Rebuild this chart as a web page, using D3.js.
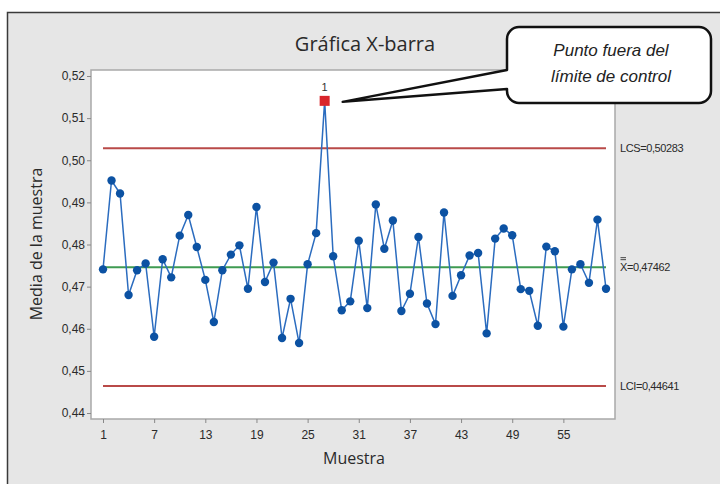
<!DOCTYPE html>
<html>
<head>
<meta charset="utf-8">
<script src="https://cdn.jsdelivr.net/npm/d3@7"></script>
<style>
  body { margin: 0; background: #fff; }
  svg { display: block; }
</style>
</head>
<body>
<script>
// sample means
var muestras = d3.range(1, 61);
var medias = [
    0.4741, 0.4952, 0.4921, 0.4680, 0.4739, 0.4755, 0.4581, 0.4765, 0.4722, 0.4821,
    0.4870, 0.4794, 0.4716, 0.4616, 0.4739, 0.4776, 0.4798, 0.4695, 0.4889, 0.4711,
    0.4757, 0.4578, 0.4671, 0.4566, 0.4753, 0.4827, 0.5141, 0.4772, 0.4644, 0.4665,
    0.4809, 0.4649, 0.4895, 0.4790, 0.4857, 0.4642, 0.4683, 0.4818, 0.4660, 0.4611,
    0.4876, 0.4678, 0.4727, 0.4774, 0.4780, 0.4589, 0.4814, 0.4838, 0.4822, 0.4694,
    0.4690, 0.4607, 0.4795, 0.4784, 0.4605, 0.4741, 0.4753, 0.4709, 0.4859, 0.4695
];
var xTicks = [1, 7, 13, 19, 25, 31, 37, 43, 49, 55];
var yTicks = [0.44, 0.45, 0.46, 0.47, 0.48, 0.49, 0.50, 0.51, 0.52];
var LCS = 0.50283, media = 0.47462, LCI = 0.44641;
var fuera = [27];   // sample flagged with test 1

var w = 720, h = 484;
var narrow = "'Liberation Sans Narrow', 'Arial Narrow', sans-serif";

var puntos = muestras.map(function (m, i) {
    return { m: m, v: medias[i], fuera: fuera.indexOf(m) >= 0 };
});

var svg = d3.select("body").append("svg")
    .attr("width", w)
    .attr("height", h);

// outer gray panel
svg.append("rect")
    .attr("x", 7.5).attr("y", 12.5)
    .attr("width", w).attr("height", h)
    .attr("fill", "#e6e6e6")
    .attr("stroke", "#3a3a3a")
    .attr("stroke-width", 1.5);

var xScale = d3.scaleLinear().domain([1, 60]).range([103, 606]);
var yScale = d3.scaleLinear().domain([0.44, 0.52]).range([413, 76]);

// plot frame
svg.append("rect")
    .attr("x", 91).attr("y", 70)
    .attr("width", 524).attr("height", 349)
    .attr("fill", "#fff")
    .attr("stroke", "#a9a9a9")
    .attr("stroke-width", 1.5);

var yAxis = d3.axisLeft(yScale)
    .tickValues(yTicks)
    .tickSize(4)
    .tickFormat(function (d) { return d3.format(".2f")(d).replace(".", ","); });

var xAxis = d3.axisBottom(xScale)
    .tickValues(xTicks)
    .tickSize(4);

var gy = svg.append("g")
    .attr("transform", "translate(91,0)")
    .call(yAxis);
gy.select(".domain").remove();
gy.selectAll("line").attr("stroke", "#888");
gy.selectAll("text")
    .attr("font-family", narrow)
    .attr("font-size", 12)
    .attr("fill", "#2a2a2a")
    .attr("x", -6);

var gx = svg.append("g")
    .attr("transform", "translate(0,419)")
    .call(xAxis);
gx.select(".domain").remove();
gx.selectAll("line").attr("stroke", "#888");
gx.selectAll("text")
    .attr("font-family", narrow)
    .attr("font-size", 12)
    .attr("fill", "#2a2a2a")
    .attr("dy", "1.1em");

// control limits
function hline(v, color) {
    svg.append("line")
        .attr("x1", 103).attr("x2", 606)
        .attr("y1", yScale(v)).attr("y2", yScale(v))
        .attr("stroke", color)
        .attr("stroke-width", 2);
}
hline(LCS, "#b94a48");
hline(LCI, "#b94a48");
hline(media, "#3f9b52");

// series line
svg.append("path")
    .datum(puntos)
    .attr("fill", "none")
    .attr("stroke", "#2b6cbf")
    .attr("stroke-width", 1.5)
    .attr("d", d3.line()
        .x(function (d) { return xScale(d.m); })
        .y(function (d) { return yScale(d.v); }));

// points
svg.selectAll("circle.pt")
    .data(puntos.filter(function (d) { return !d.fuera; }))
    .enter()
    .append("circle")
    .attr("class", "pt")
    .attr("cx", function (d) { return xScale(d.m); })
    .attr("cy", function (d) { return yScale(d.v); })
    .attr("r", 4.2)
    .attr("fill", "#0c52a3");

var rojos = puntos.filter(function (d) { return d.fuera; });
svg.selectAll("rect.fuera")
    .data(rojos)
    .enter()
    .append("rect")
    .attr("class", "fuera")
    .attr("x", function (d) { return xScale(d.m) - 5; })
    .attr("y", function (d) { return yScale(d.v) - 5; })
    .attr("width", 10).attr("height", 10)
    .attr("fill", "#d9252b");
svg.selectAll("text.fuera")
    .data(rojos)
    .enter()
    .append("text")
    .attr("class", "fuera")
    .attr("x", function (d) { return xScale(d.m); })
    .attr("y", function (d) { return yScale(d.v) - 10; })
    .attr("text-anchor", "middle")
    .attr("font-family", narrow)
    .attr("font-size", 11)
    .attr("fill", "#333")
    .text("1");

// right-hand labels
function rlabel(v, txt) {
    svg.append("text")
        .attr("x", 620).attr("y", yScale(v) + 4)
        .attr("font-family", narrow)
        .attr("font-size", 11)
        .attr("letter-spacing", -0.4)
        .attr("fill", "#2a2a2a")
        .text(txt);
}
rlabel(LCS, "LCS=0,50283");
rlabel(media, "X=0,47462");
rlabel(LCI, "LCI=0,44641");
// double bar over the X
[-9.5, -7.5].forEach(function (dy) {
    svg.append("line")
        .attr("x1", 620.5).attr("x2", 626)
        .attr("y1", yScale(media) + dy).attr("y2", yScale(media) + dy)
        .attr("stroke", "#333")
        .attr("stroke-width", 0.9);
});

// titles
svg.append("text")
    .attr("x", 365).attr("y", 51)
    .attr("text-anchor", "middle")
    .attr("font-family", "'Open Sans', sans-serif")
    .attr("font-size", 20)
    .attr("fill", "#2a2a2a")
    .text("Gráfica X-barra");

svg.append("text")
    .attr("x", 354).attr("y", 464)
    .attr("text-anchor", "middle")
    .attr("font-family", "'Open Sans', sans-serif")
    .attr("font-size", 16)
    .attr("fill", "#2a2a2a")
    .text("Muestra");

svg.append("text")
    .attr("transform", "translate(42,244) rotate(-90)")
    .attr("text-anchor", "middle")
    .attr("font-family", "'Open Sans', sans-serif")
    .attr("font-size", 16)
    .attr("fill", "#2a2a2a")
    .text("Media de la muestra");

// callout
var bx = 507, by = 27, bw = 204, bh = 76, r = 12;
var tipX = xScale(27) + 18, tipY = yScale(medias[26]) + 1;
var callout = d3.path();
callout.moveTo(bx + r, by);
callout.lineTo(bx + bw - r, by);
callout.arcTo(bx + bw, by, bx + bw, by + r, r);
callout.lineTo(bx + bw, by + bh - r);
callout.arcTo(bx + bw, by + bh, bx + bw - r, by + bh, r);
callout.lineTo(bx + r, by + bh);
callout.arcTo(bx, by + bh, bx, by + bh - r, r);
callout.lineTo(bx, by + 62);
callout.lineTo(tipX, tipY);
callout.lineTo(bx, by + 43);
callout.lineTo(bx, by + r);
callout.arcTo(bx, by, bx + r, by, r);
callout.closePath();

svg.append("path")
    .attr("d", callout.toString())
    .attr("fill", "#fff")
    .attr("stroke", "#111")
    .attr("stroke-width", 2.5)
    .attr("stroke-linejoin", "round");

svg.append("text")
    .attr("x", bx + bw / 2 + 2).attr("y", by + 29)
    .attr("text-anchor", "middle")
    .attr("font-family", "'Liberation Sans', Arial, sans-serif")
    .attr("font-style", "italic")
    .attr("font-size", 17)
    .attr("fill", "#222")
    .text("Punto fuera del");
svg.append("text")
    .attr("x", bx + bw / 2 + 2).attr("y", by + 55)
    .attr("text-anchor", "middle")
    .attr("font-family", "'Liberation Sans', Arial, sans-serif")
    .attr("font-style", "italic")
    .attr("font-size", 17)
    .attr("fill", "#222")
    .text("límite de control");
</script>
</body>
</html>
